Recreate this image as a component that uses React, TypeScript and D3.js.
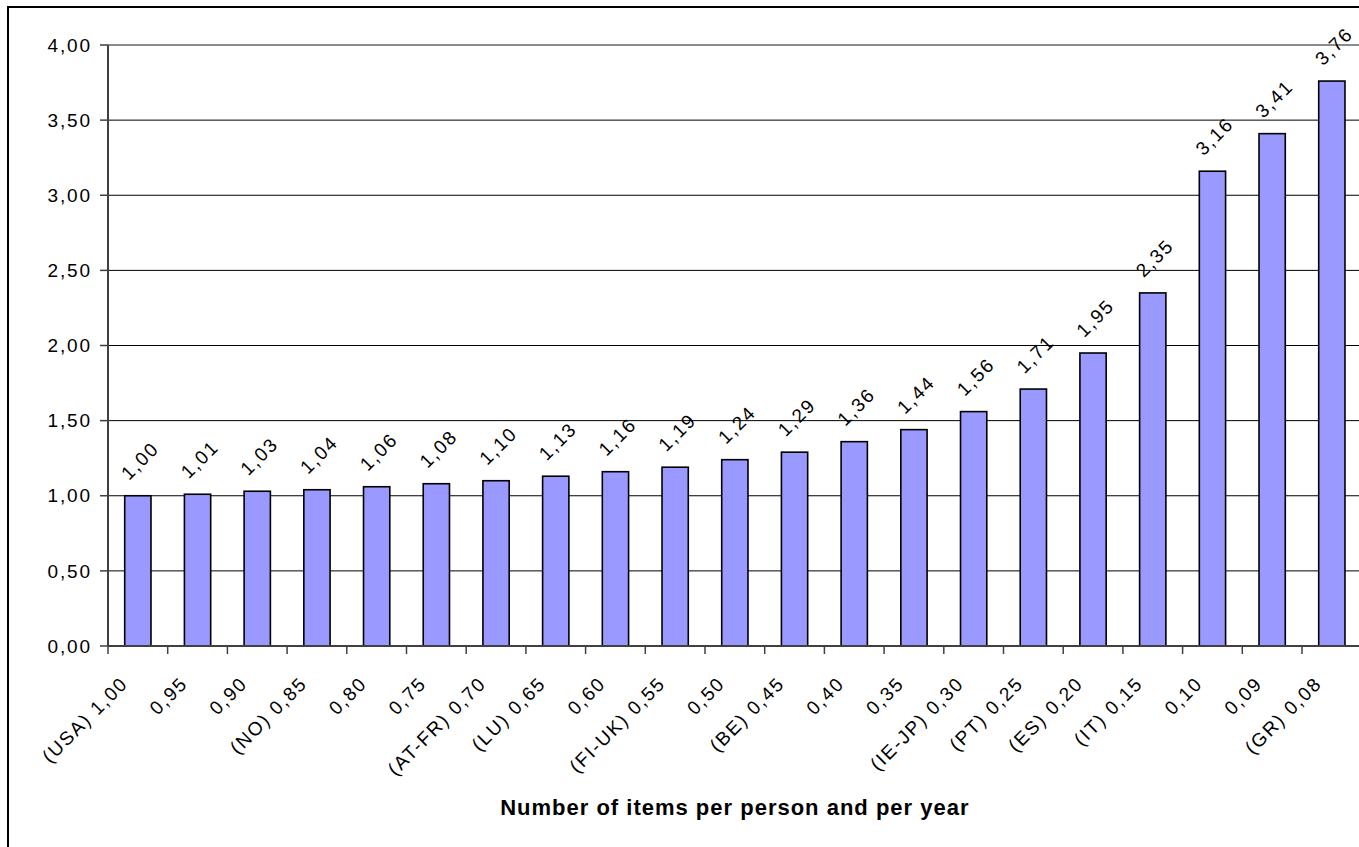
import React from "react";
import * as d3 from "d3";

// Category labels along the x axis (relative price level, country in brackets)
const categories: string[] = [
  "(USA) 1,00", "0,95", "0,90", "(NO) 0,85", "0,80", "0,75", "(AT-FR) 0,70",
  "(LU) 0,65", "0,60", "(FI-UK) 0,55", "0,50", "(BE) 0,45", "0,40", "0,35",
  "(IE-JP) 0,30", "(PT) 0,25", "(ES) 0,20", "(IT) 0,15", "0,10", "0,09", "(GR) 0,08",
];

// Number of items per person and per year
const values: number[] = [
  1.0, 1.01, 1.03, 1.04, 1.06, 1.08, 1.1, 1.13, 1.16, 1.19, 1.24,
  1.29, 1.36, 1.44, 1.56, 1.71, 1.95, 2.35, 3.16, 3.41, 3.76,
];

const yTicks: number[] = [0, 0.5, 1, 1.5, 2, 2.5, 3, 3.5, 4];
const xTitle = "Number of items per person and per year";

const W = 1359;
const H = 847;
const FONT = "'Liberation Sans', Arial, Helvetica, sans-serif";
const FS = 19;
const LS = 1.8;

const fmt = (v: number) => d3.format(".2f")(v).replace(".", ",");

export default function App() {
  const x0 = 108;
  const step = 59.7;
  const x = d3
    .scaleBand<string>()
    .domain(categories)
    .range([x0, x0 + step * categories.length])
    .paddingInner(0.56)
    .paddingOuter(0.28);
  const y = d3.scaleLinear().domain([0, 4]).range([646, 45]);

  const xRight = x0 + step * categories.length;
  const boundaries = d3.range(categories.length + 1).map((i) => x0 + i * step);
  const d45 = Math.SQRT1_2;

  return (
    <svg
      width={W}
      height={H}
      style={{ position: "absolute", left: 0, top: 0, display: "block", background: "#fff" }}
      fontFamily={FONT}
    >
      {/* outer chart frame */}
      <rect x={8} y={7} width={W + 20} height={H + 20} fill="#fff" stroke="#000" strokeWidth={2} />

      {/* horizontal gridlines */}
      {yTicks
        .filter((t) => t > 0)
        .map((t) => (
          <line
            key={"g" + t}
            x1={x0}
            x2={xRight}
            y1={y(t)}
            y2={y(t)}
            stroke={t === 4 ? "#8c8c8c" : "#000"}
            strokeWidth={t === 4 ? 2 : 1}
          />
        ))}

      {/* bars */}
      {values.map((v, i) => (
        <rect
          key={"b" + i}
          x={x(categories[i])}
          y={y(v)}
          width={x.bandwidth()}
          height={y(0) - y(v)}
          fill="#9999FF"
          stroke="#000"
          strokeWidth={1.6}
        />
      ))}

      {/* y axis */}
      <line x1={x0} x2={x0} y1={y(4)} y2={y(0) + 1} stroke="#404040" strokeWidth={2} />
      {yTicks.map((t) => (
        <g key={"yt" + t}>
          <line x1={x0 - 8} x2={x0} y1={y(t)} y2={y(t)} stroke="#404040" strokeWidth={1.5} />
          <text
            x={90 + LS}
            y={y(t)}
            dy="0.35em"
            textAnchor="end"
            fontSize={FS}
            letterSpacing={LS}
            fill="#000"
          >
            {fmt(t)}
          </text>
        </g>
      ))}

      {/* x axis */}
      <line x1={x0 - 1} x2={xRight} y1={y(0)} y2={y(0)} stroke="#404040" strokeWidth={2} />
      {boundaries.map((bx, i) => (
        <line key={"xt" + i} x1={bx} x2={bx} y1={y(0)} y2={y(0) + 8} stroke="#404040" strokeWidth={1.5} />
      ))}

      {/* category labels */}
      {categories.map((c) => {
        const cx = (x(c) as number) + x.bandwidth() / 2;
        const px = cx - 10 + LS * d45;
        const py = 686 - LS * d45;
        return (
          <text
            key={"xl" + c}
            transform={`translate(${px},${py}) rotate(-45)`}
            textAnchor="end"
            fontSize={FS}
            letterSpacing={LS}
            fill="#000"
          >
            {c}
          </text>
        );
      })}

      {/* value labels */}
      {values.map((v, i) => {
        const cx = (x(categories[i]) as number) + x.bandwidth() / 2;
        return (
          <text
            key={"vl" + i}
            transform={`translate(${cx + 2},${y(v) - 35}) rotate(-45)`}
            textAnchor="middle"
            dy="0.35em"
            fontSize={FS}
            letterSpacing={LS}
            fill="#000"
          >
            {fmt(v)}
          </text>
        );
      })}

      {/* x axis title */}
      <text
        x={(x0 + xRight) / 2}
        y={815}
        textAnchor="middle"
        fontSize={22}
        fontWeight="bold"
        letterSpacing={1}
        fill="#000"
      >
        {xTitle}
      </text>
    </svg>
  );
}
